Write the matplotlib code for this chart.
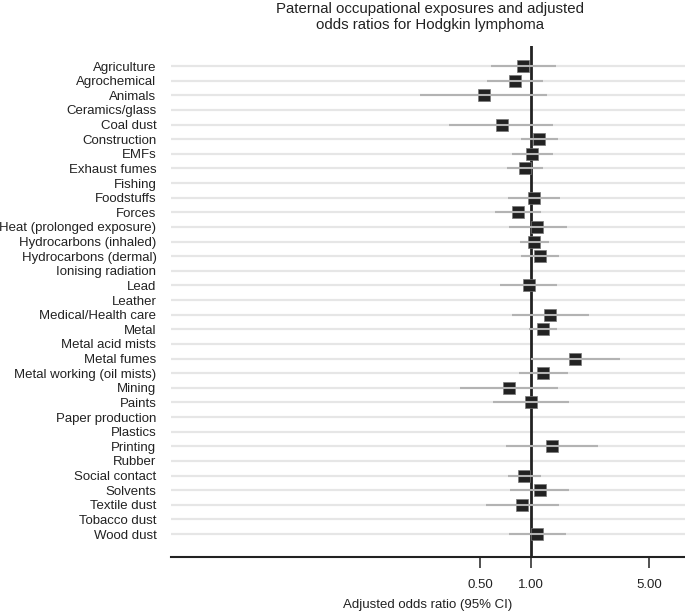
import numpy as np
import matplotlib
matplotlib.use("Agg")
import matplotlib.pyplot as plt

plt.rcParams['font.family'] = ['Liberation Sans', 'DejaVu Sans']

categories = ["Agriculture", "Agrochemical", "Animals", "Ceramics/glass", "Coal dust",
              "Construction", "EMFs", "Exhaust fumes", "Fishing", "Foodstuffs", "Forces",
              "Heat (prolonged exposure)", "Hydrocarbons (inhaled)", "Hydrocarbons (dermal)",
              "Ionising radiation", "Lead", "Leather", "Medical/Health care", "Metal",
              "Metal acid mists", "Metal fumes", "Metal working (oil mists)", "Mining",
              "Paints", "Paper production", "Plastics", "Printing", "Rubber",
              "Social contact", "Solvents", "Textile dust", "Tobacco dust", "Wood dust"]
nan = np.nan
odds_ratio = [0.90, 0.80, 0.53, nan, 0.67, 1.11, 1.02, 0.92, nan, 1.04, 0.84,
              1.09, 1.04, 1.13, nan, 0.97, nan, 1.29, 1.18, nan, 1.83, 1.18, 0.74,
              1.00, nan, nan, 1.33, nan, 0.91, 1.13, 0.89, nan, 1.09]
ci_lower = [0.58, 0.55, 0.22, nan, 0.33, 0.87, 0.77, 0.72, nan, 0.73, 0.61,
            0.74, 0.86, 0.87, nan, 0.66, nan, 0.77, 0.97, nan, 1.00, 0.85, 0.38,
            0.60, nan, nan, 0.71, nan, 0.73, 0.75, 0.54, nan, 0.74]
ci_upper = [1.41, 1.18, 1.24, nan, 1.35, 1.44, 1.34, 1.18, nan, 1.48, 1.14,
            1.63, 1.27, 1.46, nan, 1.42, nan, 2.19, 1.42, nan, 3.35, 1.65, 1.44,
            1.68, nan, nan, 2.47, nan, 1.15, 1.68, 1.46, nan, 1.62]
tick_values = [0.5, 1.0, 5.0]
tick_labels = ["0.50", "1.00", "5.00"]

W, H = 685, 612
fig = plt.figure(figsize=(W / 100, H / 100), dpi=100)
ax = fig.add_axes([171 / W, 1 - 556.7 / H, (685 - 171) / W, (556.7 - 46) / H])

n = len(categories)
ypos = np.arange(n)
ax.set_xscale('log')
ax.set_xlim(10 ** (-360 / 169.4), 10 ** (154 / 169.4))
ax.set_ylim(n - 1 + 1.55, -1.37)

for y in ypos:
    ax.axhline(y, color='#e6e6e6', lw=1.6, zorder=1)

ax.axvline(1.0, color='#222222', lw=2.0, zorder=2)

for y, o, lo, hi in zip(ypos, odds_ratio, ci_lower, ci_upper):
    if np.isnan(o):
        continue
    ax.plot([o], [y], marker='s', markersize=8.6, color='#222222',
            markeredgecolor='#777777', markeredgewidth=0.5, zorder=3, linestyle='none')
    ax.plot([lo, hi], [y, y], color='#b3b3b3', lw=1.5, zorder=4, solid_capstyle='butt')

ax.set_yticks(ypos)
ax.set_yticklabels(categories, fontsize=9.5, color='#222222')
ax.tick_params(axis='y', length=0, pad=10.5)
ax.set_xticks(tick_values)
ax.set_xticklabels(tick_labels, fontsize=9.5, color='#222222')
ax.xaxis.set_minor_locator(matplotlib.ticker.NullLocator())
ax.tick_params(axis='x', length=8, width=1.2, color='#333333', pad=8, direction='out')

for s in ['top', 'right', 'left']:
    ax.spines[s].set_visible(False)
ax.spines['bottom'].set_color('#222222')
ax.spines['bottom'].set_linewidth(1.5)

fig.text(428 / W, 1 - 605 / H, "Adjusted odds ratio (95% CI)", ha='center', va='center',
         fontsize=9.5, color='#222222')
fig.text(429.5 / W, 1 - 17 / H,
         "Paternal occupational exposures and adjusted\nodds ratios for Hodgkin lymphoma",
         ha='center', va='center', fontsize=10.8, color='#222222', linespacing=1.15)

fig.savefig("out.png", dpi=100)
